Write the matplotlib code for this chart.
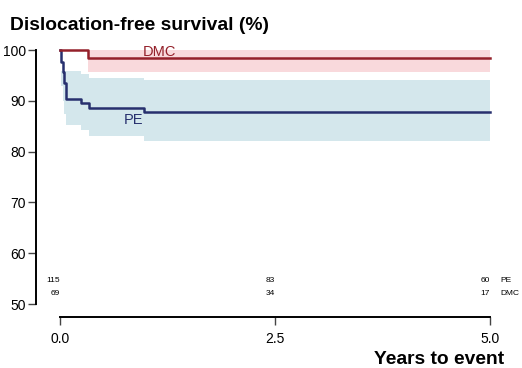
import matplotlib
matplotlib.use("Agg")
import matplotlib.pyplot as plt

plt.rcParams['font.family'] = ['Liberation Sans', 'DejaVu Sans']

# PE Kaplan-Meier estimate (years, %)
pe_time = [0.0, 0.01, 0.03, 0.05, 0.07, 0.24, 0.34, 0.98, 5.0]
pe_surv = [100, 97.6, 95.6, 93.5, 90.3, 89.6, 88.6, 87.8, 87.8]
pe_ci_time = [0.015, 0.03, 0.05, 0.07, 0.24, 0.34, 0.98, 5.0]
pe_lower = [93.0, 90.0, 87.5, 85.2, 84.2, 83.1, 82.0, 82.0]
pe_upper = [95.9, 95.9, 95.9, 95.9, 95.2, 94.5, 94.0, 94.0]

# DMC Kaplan-Meier estimate
dmc_time = [0.0, 0.33, 5.0]
dmc_surv = [100, 98.5, 98.5]
dmc_ci_time = [0.33, 5.0]
dmc_lower = [95.7, 95.7]
dmc_upper = [100, 100]

# numbers at risk
risk_times = [0.0, 2.5, 5.0]
risk_pe = [115, 83, 60]
risk_dmc = [69, 34, 17]

x_ticks = [0.0, 2.5, 5.0]
y_ticks = [50, 60, 70, 80, 90, 100]

pe_color = '#27306e'
pe_band = '#d4e7ec'
dmc_color = '#94202a'
dmc_band = '#f9d9dc'

fig = plt.figure(figsize=(5.22, 3.68), dpi=100)
W, H = 522, 368
ax = fig.add_axes([60 / W, 1 - 304 / H, 430 / W, 254 / H])

ax.fill_between(pe_ci_time, pe_lower, pe_upper, step='post', color=pe_band, lw=0)
ax.fill_between(dmc_ci_time, dmc_lower, dmc_upper, step='post', color=dmc_band, lw=0)
ax.step(pe_time, pe_surv, where='post', color=pe_color, lw=1.8, clip_on=False)
ax.step(dmc_time, dmc_surv, where='post', color=dmc_color, lw=1.8, clip_on=False)

ax.text(1.16, 99.6, 'DMC', color=dmc_color, fontsize=10.5, ha='center', va='center')
ax.text(0.85, 86.2, 'PE', color=pe_color, fontsize=10.5, ha='center', va='center')

ax.set_xlim(0, 5)
ax.set_ylim(50, 100)
ax.set_xticks(x_ticks)
ax.set_xticklabels([f'{t:.1f}' for t in x_ticks])
ax.set_yticks(y_ticks)
ax.set_yticklabels([str(v) for v in y_ticks])

for s in ['top', 'right']:
    ax.spines[s].set_visible(False)
ax.spines['left'].set_position(('outward', 17))
ax.spines['bottom'].set_position(('outward', 9))
ax.spines['left'].set_linewidth(1.4)
ax.spines['bottom'].set_linewidth(1.4)
ax.tick_params(axis='both', direction='out', length=5.5, width=1.0, color='#444444',
               labelsize=10, pad=2)
ax.tick_params(axis='x', pad=6)

for t, n in zip(risk_times, risk_pe):
    ax.text(t, 54.7, str(n), fontsize=6, ha='right', va='center', clip_on=False)
for t, n in zip(risk_times, risk_dmc):
    ax.text(t, 52.1, str(n), fontsize=6, ha='right', va='center', clip_on=False)
ax.text(5.0 + 10 / 86, 54.7, 'PE', fontsize=6, ha='left', va='center', clip_on=False)
ax.text(5.0 + 10 / 86, 52.1, 'DMC', fontsize=6, ha='left', va='center', clip_on=False)

fig.text(10 / W, 1 - 29.5 / H, 'Dislocation-free survival (%)', fontsize=13.9,
         fontweight='bold', ha='left', va='baseline')
fig.text(504 / W, 1 - 364 / H, 'Years to event', fontsize=13.9,
         fontweight='bold', ha='right', va='baseline')

fig.savefig('out.png', dpi=100)
